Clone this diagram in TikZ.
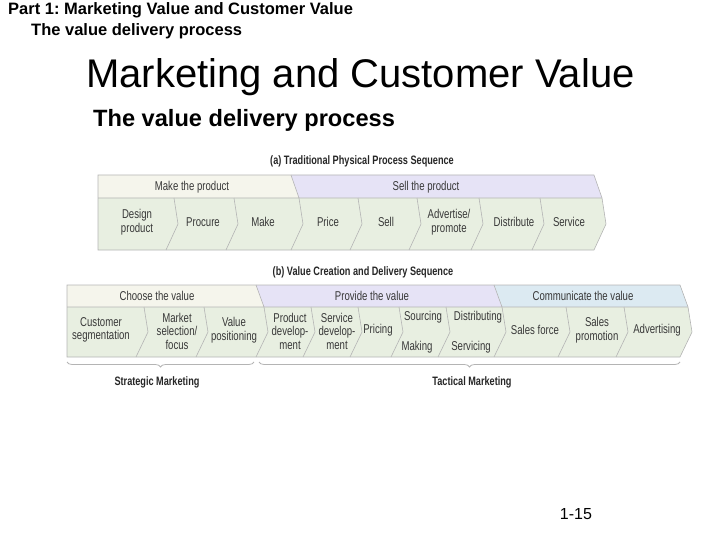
\documentclass[tikz,border=0pt]{standalone}
\usepackage{fontspec}
\setmainfont{Liberation Sans}
\newfontfamily\condfont[FakeStretch=0.75]{Liberation Sans}
\usetikzlibrary{decorations.pathreplacing}
\definecolor{edge}{HTML}{B4B4B4}
\definecolor{cream}{HTML}{F5F5EC}
\definecolor{lilac}{HTML}{E6E3F6}
\definecolor{sage}{HTML}{E8EFE1}
\definecolor{sky}{HTML}{DCEAF2}
\frenchspacing

\begin{document}
\begin{tikzpicture}[x=1pt,y=-1pt,
 lbl/.style={align=center,inner sep=0pt,text=black!78,
 font=\condfont\fontsize{12.8}{13.5}\selectfont},
 seqtitle/.style={inner sep=0pt,text=black!85,font=\condfont\bfseries\fontsize{12.2}{13}\selectfont},
 head/.style={anchor=base west,inner sep=0pt},
 rim/.style={draw=edge,line width=0.6pt},
 brc/.style={draw=edge,line width=0.8pt,decorate,decoration={brace,mirror,amplitude=5pt}}]
\useasboundingbox (0,0) rectangle (720,540);

\node[head,font=\bfseries\fontsize{16.5}{18}\selectfont] (part) at (8,15) {Part 1: Marketing Value and Customer Value};
\node[head,font=\bfseries\fontsize{16.5}{18}\selectfont] (partsub) at (31,36) {The value delivery process};
\node[head,font=\fontsize{40}{44}\selectfont] (title) at (86,88) {Marketing and Customer Value};
\node[head,font=\bfseries\fontsize{23.6}{26}\selectfont] (subtitle) at (93,127) {The value delivery process};
\node[anchor=base,inner sep=0pt,font=\fontsize{16}{18}\selectfont] (page) at (576,519) {1-15};

\node[seqtitle] (atitle) at (362,161) {(a) Traditional Physical Process Sequence};
\fill[cream] (98,175) -- (291,175) -- (299,198) -- (98,198) -- cycle;
\fill[lilac] (291,175) -- (594,175) -- (602,198) -- (299,198) -- cycle;
\fill[sage] (98,198) -- (602,198) -- (606,224) -- (594,250) -- (98,250) -- cycle;
\draw[rim] (98,175) -- (594,175) -- (602,198) -- (606,224) -- (594,250) -- (98,250) -- cycle;
\draw[rim] (98,198) -- (602,198) (291,175) -- (299,198);
\foreach \p in {178,238,303,362,421,483,544}
 \draw[rim] (\p-4,198) -- (\p,224) -- (\p-12,250);
\node[lbl] (makeband) at (192,187) {Make the product};
\node[lbl] (sellband) at (426,187) {Sell the product};
\node[lbl] (design) at (137,222) {Design\\product};
\node[lbl] (procure) at (203,222) {Procure};
\node[lbl] (make) at (263,222) {Make};
\node[lbl] (price) at (328,222) {Price};
\node[lbl] (sell) at (386,222) {Sell};
\node[lbl] (advertise) at (449,222) {Advertise/\\promote};
\node[lbl] (distribute) at (514,222) {Distribute};
\node[lbl] (service) at (569,222) {Service};

\node[seqtitle] (btitle) at (363,272) {(b) Value Creation and Delivery Sequence};
\fill[cream] (67,285) -- (256,285) -- (264,307) -- (67,307) -- cycle;
\fill[lilac] (256,285) -- (494,285) -- (502,307) -- (264,307) -- cycle;
\fill[sky] (494,285) -- (680,285) -- (688,307) -- (502,307) -- cycle;
\fill[sage] (67,307) -- (688,307) -- (692,332) -- (680,357) -- (67,357) -- cycle;
\draw[rim] (67,285) -- (680,285) -- (688,307) -- (692,332) -- (680,357) -- (67,357) -- cycle;
\draw[rim] (67,307) -- (688,307) (256,285) -- (264,307) (494,285) -- (502,307);
\foreach \p in {148,208,268,315,362,403,450,506,570,628}
 \draw[rim] (\p-4,307) -- (\p,332) -- (\p-12,357);
\node[lbl] (chooseband) at (157,296) {Choose the value};
\node[lbl] (provideband) at (372,296) {Provide the value};
\node[lbl] (commband) at (583,296) {Communicate the value};
\node[lbl] (segment) at (101,330) {Customer\\segmentation};
\node[lbl] (select) at (177,331) {Market\\selection/\\focus};
\node[lbl] (position) at (234,330) {Value\\positioning};
\node[lbl] (proddev) at (290,331) {Product\\develop-\\ment};
\node[lbl] (servdev) at (337,331) {Service\\develop-\\ment};
\node[lbl] (pricing) at (378,330) {Pricing};
\node[lbl] (sourcing) at (423,317) {Sourcing};
\node[lbl] (making) at (417,347) {Making};
\node[lbl] (distributing) at (478,317) {Distributing};
\node[lbl] (servicing) at (471,347) {Servicing};
\node[lbl] (salesforce) at (535,330) {Sales force};
\node[lbl] (promotion) at (597,330) {Sales\\promotion};
\node[lbl] (advertising) at (657,330) {Advertising};

\coordinate (stratL) at (67,362);
\coordinate (stratR) at (254,362);
\coordinate (tactL) at (259,362);
\coordinate (tactR) at (680,362);
\draw[brc] (stratL) -- (stratR);
\draw[brc] (tactL) -- (tactR);
\node[seqtitle] (strategic) at (157,382) {Strategic Marketing};
\node[seqtitle] (tactical) at (472,382) {Tactical Marketing};
\end{tikzpicture}
\end{document}
